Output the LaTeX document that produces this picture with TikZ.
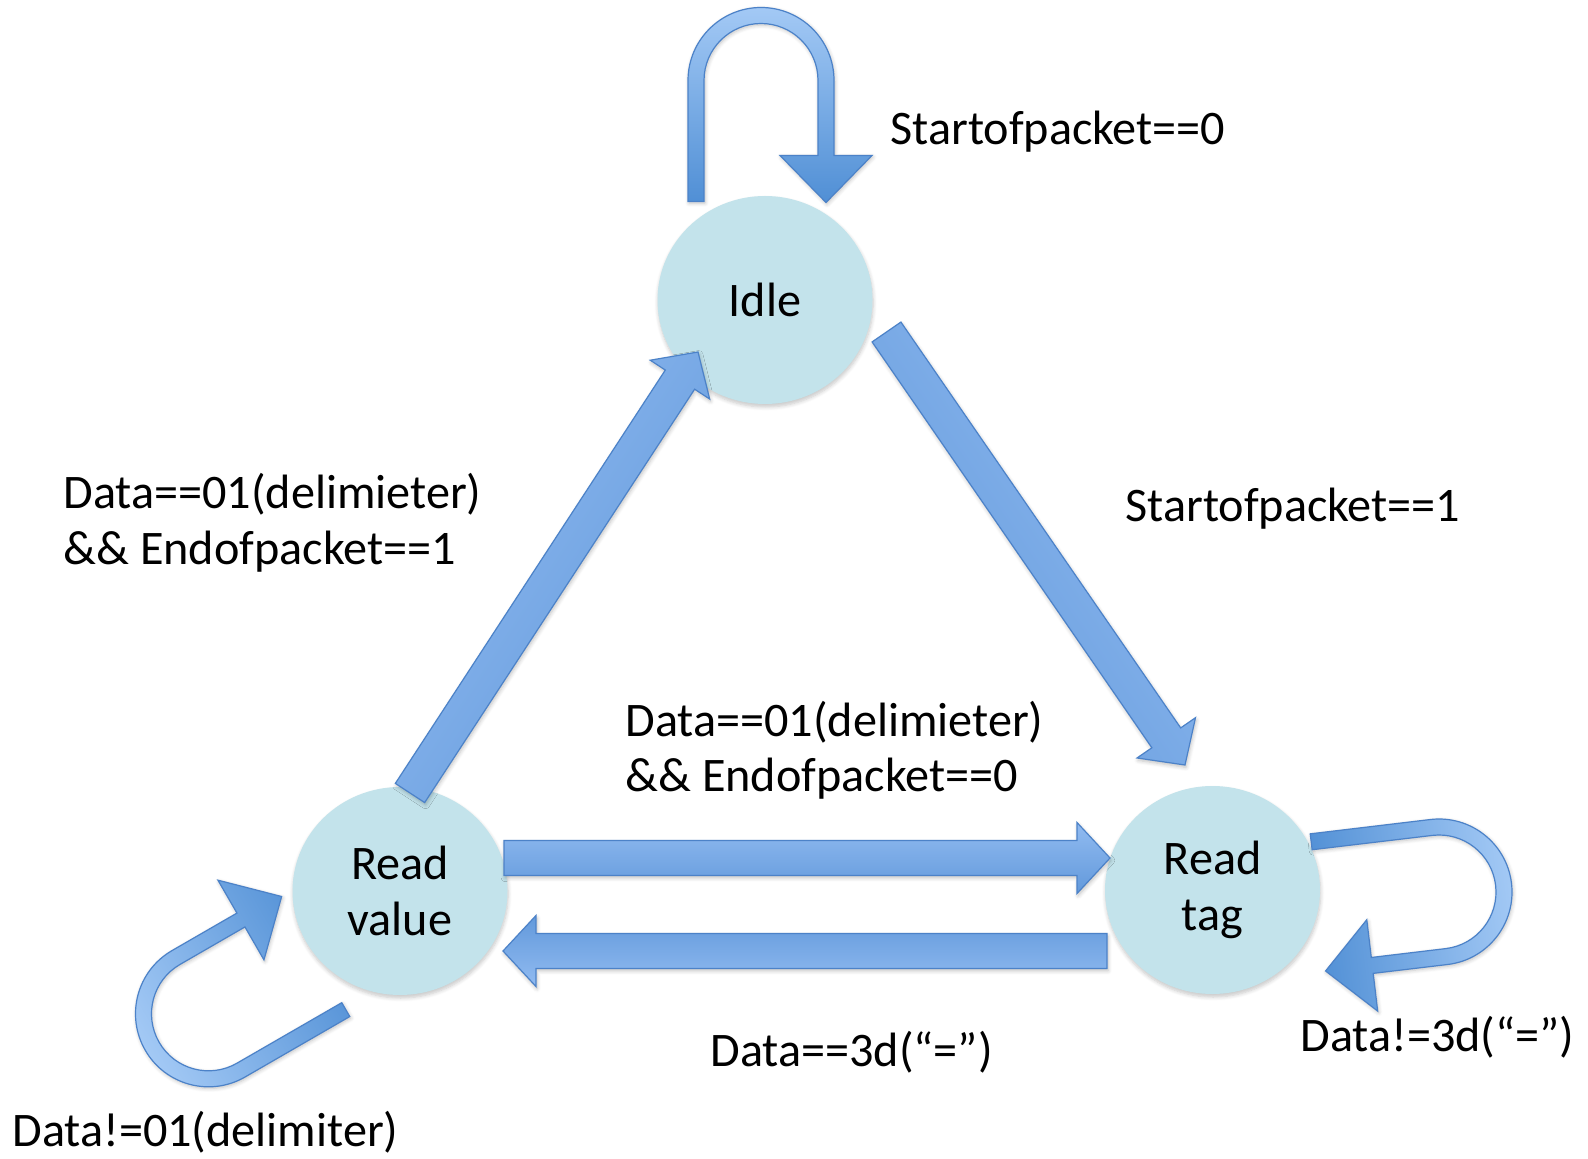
\documentclass[tikz,border=0pt]{standalone}
\usepackage{fontspec}
\setmainfont{Carlito}
\usetikzlibrary{calc,shapes.geometric,shadows.blur}

\definecolor{statefill}{RGB}{195,227,235}
\definecolor{arrowlight}{RGB}{163,201,245}
\definecolor{arrowdark}{RGB}{80,143,213}
\definecolor{straightlight}{RGB}{145,187,241}
\definecolor{straightdark}{RGB}{98,153,219}
\definecolor{arrowline}{RGB}{76,130,200}

\newcommand{\labelfont}{\fontsize{24.1}{27.75}\selectfont}

% U-turn block arrow in its own frame: arc centred at the origin,
% legs running along +x, head on the +y leg
\newcommand{\myUturn}{(121,-73) -- (0,-73) arc[start angle=-90, end angle=-270, radius=73]
  -- (75,73) -- (75,111) -- (122,65) -- (75,19) -- (75,57) -- (0,57)
  arc[start angle=90, end angle=270, radius=57] -- (121,-57) -- cycle}

% straight block arrow from #2 to #3, shading turned by #1
\newcommand{\blockarrow}[3]{%
  \coordinate (hb) at ($(#3)!16.5pt!(#2)$);
  \draw[barrow, shading angle=#1]
    ($(#2)!8.75pt!-90:(#3)$) -- ($(hb)!8.75pt!-90:(#3)$) -- ($(hb)!17.75pt!-90:(#3)$) -- (#3)
    -- ($(hb)!17.75pt!90:(#3)$) -- ($(hb)!8.75pt!90:(#3)$) -- ($(#2)!8.75pt!90:(#3)$) -- cycle;
}

\tikzset{
  state/.style={ellipse, fill=statefill, minimum width=107.5pt, minimum height=104pt,
    inner sep=0pt, align=center, font=\labelfont,
    blur shadow={shadow xshift=0.3pt, shadow yshift=-1.5pt, shadow opacity=22, shadow blur steps=6}},
  lbl/.style={anchor=base west, inner sep=0pt, align=left, font=\labelfont},
  barrow/.style={draw=arrowline, line width=0.6pt, line join=miter,
    top color=straightlight, bottom color=straightdark,
    blur shadow={shadow xshift=0.5pt, shadow yshift=-1.2pt, shadow opacity=25, shadow blur steps=5}},
  uturn/.style={draw=arrowline, line width=0.6pt, line join=miter,
    top color=arrowlight, bottom color=arrowdark,
    blur shadow={shadow xshift=0.5pt, shadow yshift=-0.8pt, shadow opacity=25, shadow blur steps=5}},
}

\begin{document}
\begin{tikzpicture}[x=0.5pt, y=0.5pt]
  \useasboundingbox (0,0) rectangle (1588,-1159);

  % states
  \node[state] (idle)  at (765,-300)    {Idle};
  \node[state] (value) at (400,-891)    {Read\\value};
  \node[state] (tag)   at (1212.5,-890) {Read\\tag};

  % ends of the straight transitions
  \coordinate (aS) at ($(value)+(10,98)$);
  \coordinate (aT) at ($(idle)+(-67,-52)$);
  \coordinate (bS) at ($(idle)+(121.5,-32)$);
  \coordinate (bT) at ($(tag)+(-27.5,125)$);
  \coordinate (cS) at ($(value)+(104,33)$);
  \coordinate (cT) at ($(tag)+(-102.5,32)$);
  \coordinate (dS) at ($(tag)+(-105.5,-61)$);
  \coordinate (dT) at ($(value)+(103,-60)$);

  \blockarrow{56.85}{aS}{aT}
  \blockarrow{-55.4}{bS}{bT}
  \blockarrow{0}{cS}{cT}
  \blockarrow{180}{dS}{dT}

  % self loops
  \begin{scope}[shift={($(idle)+(-4,219.5)$)}, rotate=-90]
    \draw[uturn, shading angle=0] \myUturn;
  \end{scope}
  \begin{scope}[shift={($(value)+(-191.5,-122.8)$)}, rotate=30]
    \draw[uturn, shading angle=120] \myUturn;
  \end{scope}
  \begin{scope}[shift={($(tag)+(226.5,-2)$)}, rotate=186.8]
    \draw[uturn, shading angle=276.8] \myUturn;
  \end{scope}

  % transition conditions (base anchor sits on the last line)
  \node[lbl] (s0)   at (890,-145)   {Startofpacket==0};
  \node[lbl] (s1)   at (1125,-522)  {Startofpacket==1};
  \node[lbl] (d1)   at (63,-564.5)  {Data==01(delimieter)\\\&\& Endofpacket==1};
  \node[lbl] (d0)   at (625,-791.5) {Data==01(delimieter)\\\&\& Endofpacket==0};
  \node[lbl] (d3)   at (710,-1066)  {Data==3d(“=”)};
  \node[lbl] (dn3)  at (1300,-1051) {Data!=3d(“=”)};
  \node[lbl] (dn01) at (12,-1146)   {Data!=01(delimiter)};
\end{tikzpicture}
\end{document}
